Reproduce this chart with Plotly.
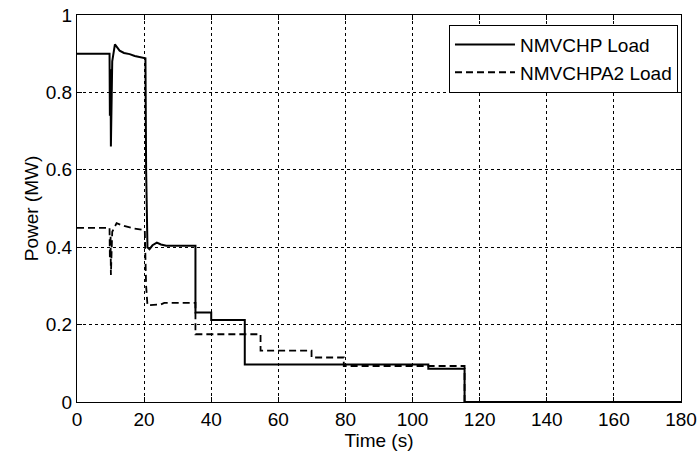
import plotly.graph_objects as go

# NMVCHP load trajectory (time in s, power in MW)
t_chp = [0, 9.7, 9.8, 10.0, 10.1, 10.3, 10.5, 11.3, 12.0, 12.7, 14.0, 15.7, 17.2, 19.2, 20.4,
         20.6, 21.0, 21.6, 22.5, 23.8, 25.0, 26.6, 35.3, 35.3, 40.0, 40.0, 50.0, 50.0,
         104.7, 104.7, 115.5, 115.5, 180]
p_chp = [0.9, 0.9, 0.74, 0.86, 0.66, 0.82, 0.88, 0.924, 0.915, 0.908, 0.902, 0.899, 0.894, 0.89, 0.888,
         0.6, 0.40, 0.395, 0.405, 0.412, 0.407, 0.404, 0.404, 0.231, 0.231, 0.212, 0.212, 0.097,
         0.097, 0.086, 0.086, 0.0, 0.0]

# NMVCHPA2 load trajectory
t_a2 = [0, 9.7, 9.8, 10.0, 10.1, 10.3, 10.5, 11.8, 14.0, 17.0, 20.2, 20.6, 21.0, 25.0, 26.0,
        35.3, 35.3, 54.7, 54.7, 69.9, 69.9, 79.5, 79.5, 115.5, 115.5, 180]
p_a2 = [0.45, 0.45, 0.37, 0.43, 0.328, 0.41, 0.44, 0.462, 0.455, 0.448, 0.444, 0.30, 0.25, 0.252, 0.256,
        0.256, 0.175, 0.175, 0.133, 0.133, 0.115, 0.115, 0.093, 0.093, 0.0, 0.0]

x_ticks = [0, 20, 40, 60, 80, 100, 120, 140, 160, 180]
y_ticks = [0, 0.2, 0.4, 0.6, 0.8, 1.0]
y_tick_text = ["0", "0.2", "0.4", "0.6", "0.8", "1"]

FONT = "Liberation Sans, Arial, sans-serif"
FS = 19

fig = go.Figure()
fig.add_trace(go.Scatter(x=t_chp, y=p_chp, mode="lines", name="NMVCHP Load",
                         line=dict(color="black", width=2)))
fig.add_trace(go.Scatter(x=t_a2, y=p_a2, mode="lines", name="NMVCHPA2 Load",
                         line=dict(color="black", width=1.8, dash="7px,4px")))

axis_common = dict(
    showgrid=True, gridcolor="black", gridwidth=1, griddash="dot",
    showline=True, linecolor="black", linewidth=1, mirror="ticks",
    ticks="inside", ticklen=5, tickcolor="black",
    zeroline=False, ticklabeloverflow="allow", automargin=False,
    tickfont=dict(size=FS, color="black", family=FONT),
)

fig.update_xaxes(range=[0, 180], tickvals=x_ticks,
                 title=dict(text="Time (s)", font=dict(size=FS, family=FONT, color="black"),
                            standoff=0),
                 **axis_common)
fig.update_yaxes(range=[0, 1], tickvals=y_ticks, ticktext=y_tick_text,
                 title=dict(text="Power (MW)", font=dict(size=FS, family=FONT, color="black"),
                            standoff=2),
                 **axis_common)

fig.update_layout(
    width=697, height=459,
    margin=dict(l=77, r=16, t=15, b=57),
    paper_bgcolor="white", plot_bgcolor="white",
    font=dict(family=FONT, color="black"),
    showlegend=True,
    legend=dict(x=0.995, y=0.975, xanchor="right", yanchor="top",
                bgcolor="white", bordercolor="black", borderwidth=1,
                font=dict(size=FS, family=FONT, color="black"),
                tracegroupgap=0, itemwidth=60),
)

fig.write_html("out.html")
